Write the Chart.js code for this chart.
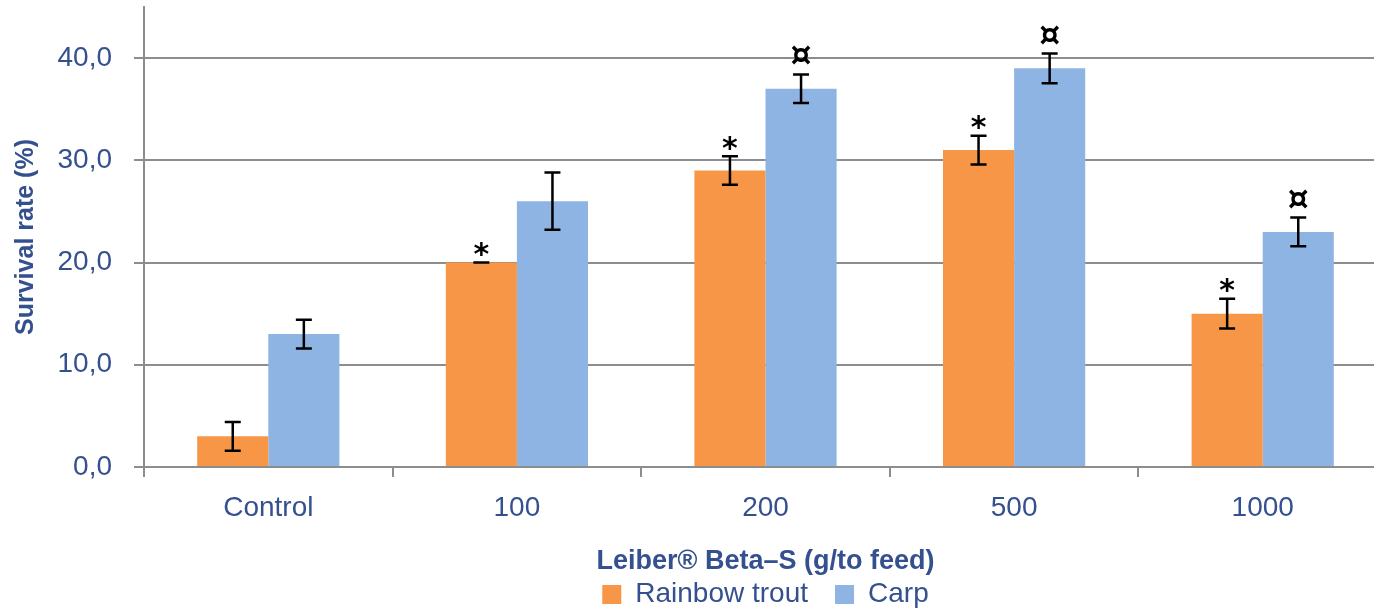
<!DOCTYPE html>
<html><head><meta charset="utf-8">
<script src="https://cdn.jsdelivr.net/npm/chart.js@4"></script>
<style>html,body{margin:0;padding:0;background:#fff;overflow:hidden}
#wrap{position:relative;width:1387px;height:609px}</style></head>
<body><div id="wrap"><canvas id="c"></canvas></div>
<script>
const categories = ['Control', '100', '200', '500', '1000'];
const troutValues = [3, 20, 29, 31, 15];
const carpValues = [13, 26, 37, 39, 23];
const troutErrors = [1.4, 0, 1.4, 1.4, 1.45];
const carpErrors = [1.4, 2.8, 1.4, 1.45, 1.4];
const troutMarks = ['', '*', '*', '*', '*'];
const carpMarks = ['', '', '¤', '¤', '¤'];
const yTickValues = [0, 10, 20, 30, 40];
const seriesNames = ['Rainbow trout', 'Carp'];
const xTitle = 'Leiber® Beta–S (g/to feed)';
const yTitle = 'Survival rate (%)';

const NAVY = '#34508f';
const GRAY = '#8d8d8d';
const FONT = "'Liberation Sans', Arial, sans-serif";
Chart.defaults.font.family = FONT;
Chart.defaults.color = NAVY;

const errorBarPlugin = {
  id: 'errorBars',
  afterDatasetsDraw(chart) {
    const ctx = chart.ctx;
    const y = chart.scales.y;
    chart.data.datasets.forEach((ds, di) => {
      const meta = chart.getDatasetMeta(di);
      meta.data.forEach((bar, i) => {
        const v = ds.data[i], e = ds.errors[i];
        const top = y.getPixelForValue(v + e);
        const bot = y.getPixelForValue(v - e);
        ctx.save();
        ctx.strokeStyle = '#000';
        ctx.lineWidth = 2.5;
        ctx.beginPath();
        ctx.moveTo(bar.x, top); ctx.lineTo(bar.x, bot);
        ctx.moveTo(bar.x - 8, top); ctx.lineTo(bar.x + 8, top);
        ctx.moveTo(bar.x - 8, bot); ctx.lineTo(bar.x + 8, bot);
        ctx.stroke();
        const m = ds.marks[i];
        if (m) {
          ctx.fillStyle = '#000';
          ctx.font = (m === '*' ? 'bold 30px ' : 'bold 33px ') + "'DejaVu Sans', sans-serif";
          ctx.textAlign = 'center';
          ctx.textBaseline = 'alphabetic';
          const mt = ctx.measureText(m);
          const center = top - (m === '*' ? 13 : 19);
          ctx.fillText(m, bar.x, center + (mt.actualBoundingBoxAscent - mt.actualBoundingBoxDescent) / 2);
        }
        ctx.restore();
      });
    });
  }
};

new Chart(document.getElementById('c'), {
  type: 'bar',
  data: {
    labels: categories,
    datasets: [
      { label: seriesNames[0], data: troutValues, errors: troutErrors, marks: troutMarks,
        backgroundColor: '#f79646', borderWidth: 0 },
      { label: seriesNames[1], data: carpValues, errors: carpErrors, marks: carpMarks,
        backgroundColor: '#8eb4e3', borderWidth: 0 }
    ]
  },
  options: {
    responsive: true,
    maintainAspectRatio: false,
    animation: false,
    layout: { padding: { top: 7, left: 0, right: 0, bottom: -9.5 } },
    datasets: { bar: { barPercentage: 1, categoryPercentage: 0.572 } },
    plugins: {
      legend: {
        position: 'bottom',
        fullSize: false,
        labels: { font: { size: 28 }, color: NAVY, boxWidth: 19, boxHeight: 19, padding: 27 }
      },
      tooltip: { enabled: false }
    },
    scales: {
      x: {
        grid: { display: true, drawOnChartArea: false, drawTicks: true, tickLength: 10, color: GRAY, lineWidth: 2, offset: true },
        border: { display: true, color: GRAY, width: 2 },
        ticks: { font: { size: 28 }, color: NAVY, padding: 14 },
        title: { display: true, text: xTitle, font: { size: 27, weight: 'bold' }, color: NAVY, padding: { top: 0, bottom: -24 } },
        afterFit(s) { s.height = 86.5; s.paddingLeft = 0; s.paddingRight = 0; }
      },
      y: {
        min: 0, max: 45,
        afterBuildTicks(s) { s.ticks = yTickValues.map(v => ({ value: v })); },
        grid: { color: GRAY, lineWidth: 2, tickLength: 10, drawTicks: true },
        border: { display: true, color: GRAY, width: 2 },
        ticks: { font: { size: 28 }, color: NAVY, padding: 22,
          callback: v => v.toFixed(1).replace('.', ',') },
        title: { display: true, text: yTitle, font: { size: 25, weight: 'bold' }, color: NAVY, padding: { top: 11, bottom: 0 } },
        afterFit(s) { s.width = 144; s.paddingTop = 0; s.paddingBottom = 0; }
      }
    }
  },
  plugins: [errorBarPlugin]
});
</script>
</body></html>
